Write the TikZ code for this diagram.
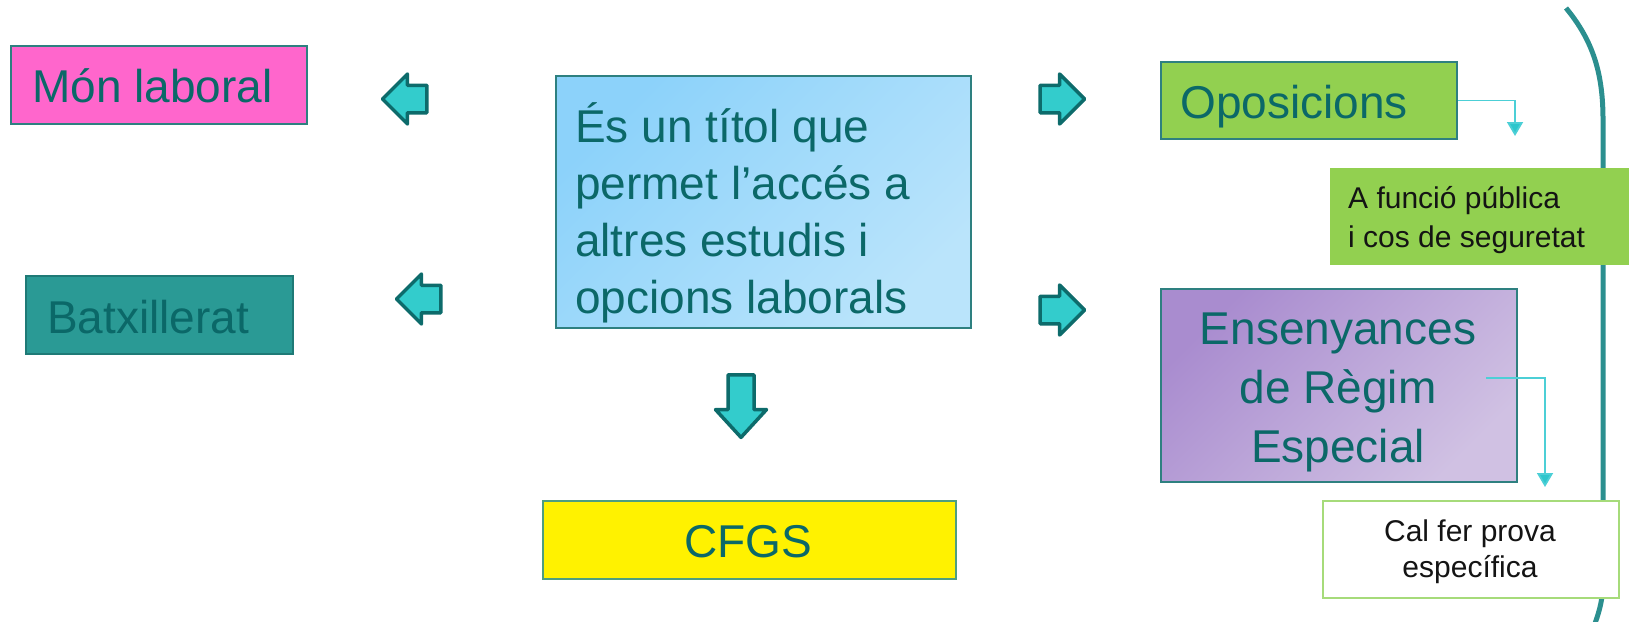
\documentclass[tikz,border=0pt]{standalone}
\usepackage{fontspec}
\setmainfont{Liberation Sans}
\usetikzlibrary{shapes.arrows,arrows.meta}
\definecolor{tealtxt}{HTML}{0B6868}
\definecolor{arrowfill}{HTML}{33CCCC}
\definecolor{arrowline}{HTML}{0D6B6B}
\definecolor{pinkbox}{HTML}{FF66CC}
\definecolor{tealbox}{HTML}{2A9A95}
\definecolor{tealboxline}{HTML}{1E7A76}
\definecolor{greenbox}{HTML}{92D050}
\definecolor{cenA}{HTML}{8CD2FA}
\definecolor{cenB}{HTML}{BAE4FB}
\definecolor{purA}{HTML}{A98CCF}
\definecolor{purB}{HTML}{D0C1E3}
\definecolor{boxline}{HTML}{2E8080}
\definecolor{cfgsline}{HTML}{4E9E80}
\definecolor{connline}{HTML}{4CCFD6}
\definecolor{connhead}{HTML}{2EC6CC}
\definecolor{bracecol}{HTML}{2B8F8F}
\definecolor{lightgreenline}{HTML}{A6DB7A}
\tikzset{
  box/.style={draw=boxline, line width=2pt, rectangle, inner sep=0pt, anchor=north west},
  bigtxt/.style={text=tealtxt, font=\fontsize{46}{57}\selectfont, inner sep=0pt},
  smalltxt/.style={text=black!92, font=\fontsize{30}{38}\selectfont, inner sep=0pt},
  blockarrow/.style={single arrow, draw=arrowline, fill=arrowfill, line width=3.5pt,
    line join=round, inner sep=0pt, single arrow head extend=11.25pt,
    text width=24pt, text height=12pt, text depth=12pt,
    minimum height=44.5pt, single arrow tip angle=90, anchor=tip},
  downarrow/.style={blockarrow, single arrow head extend=12.5pt,
    text width=22.5pt, text height=11.25pt, text depth=11.25pt,
    minimum height=62.5pt, single arrow tip angle=85,
    shape border rotate=270},
  conn/.style={draw=connline, line width=1.8pt, -{Triangle[length=14pt,width=16pt,fill=connhead]}},
  brace/.style={draw=bracecol, line width=5pt},
}
\begin{document}
\begin{tikzpicture}[x=1pt,y=-1pt]
\useasboundingbox (0,0) rectangle (1629,621);
% big bracket on the right
\draw[brace] (1566,8) .. controls (1594,42) and (1603,75) .. (1603,120)
  -- (1603,580) .. controls (1603,598) and (1600,610) .. (1594,626);

% left boxes
\node[box, fill=pinkbox, minimum width=296pt, minimum height=78pt] (mon) at (10,45) {};
\node[bigtxt, anchor=base west] (montxt) at (32,102) {Món laboral};
\node[box, draw=tealboxline, fill=tealbox, minimum width=267pt, minimum height=78pt] (bat) at (25,275) {};
\node[bigtxt, anchor=base west] (battxt) at (47,333) {Batxillerat};

% central box
\node[box, top color=cenA, bottom color=cenB, shading angle=45,
  minimum width=415pt, minimum height=252pt] (cen) at (555,75) {};
\node[bigtxt, anchor=base west, align=left] (centxt) at (575,313)
  {És un títol que\\permet l’accés a\\altres estudis i\\opcions laborals};

% CFGS
\node[box, draw=cfgsline, fill=yellow, minimum width=413pt, minimum height=78pt] (cfgs) at (542,500) {};
\node[bigtxt, anchor=base] (cfgstxt) at (748,557) {CFGS};

% right boxes
\node[box, fill=greenbox, minimum width=296pt, minimum height=77pt] (opos) at (1160,61) {};
\node[bigtxt, anchor=base west] (opostxt) at (1180,118) {Oposicions};

\node[box, draw=none, fill=greenbox, minimum width=320pt, minimum height=97pt] (func) at (1329,167) {};
\node[smalltxt, anchor=base west, align=left, font=\fontsize{30}{39}\selectfont] (functxt) at (1348,247)
  {A funció pública\\i cos de seguretat};

\node[box, top color=purA, bottom color=purB, shading angle=45,
  minimum width=356pt, minimum height=193pt] (ens) at (1160,288) {};
\node[bigtxt, anchor=base, align=center, font=\fontsize{46}{59}\selectfont] (enstxt) at (1338,462)
  {Ensenyances\\de Règim\\Especial};

\node[box, draw=lightgreenline, fill=white, minimum width=296pt, minimum height=97pt] (prova) at (1322,500) {};
\node[smalltxt, anchor=base, align=center, font=\fontsize{30}{36}\selectfont] (provatxt) at (1470,577)
  {Cal fer prova\\específica};

% block arrows
\node[blockarrow, shape border rotate=180] (al1) at (380,99) {};
\node[blockarrow, shape border rotate=180] (al2) at (394,299) {};
\node[blockarrow] (ar1) at (1087,99) {};
\node[blockarrow] (ar2) at (1087,310) {};
\node[downarrow] (ad) at (741,440) {};

% connectors
\coordinate (t1) at (1515,136);
\draw[conn] (opos.east) -| (t1);
\coordinate (s2) at (1486,378);
\coordinate (t2) at (1545,487);
\draw[conn] (s2) -| (t2);
\end{tikzpicture}
\end{document}
